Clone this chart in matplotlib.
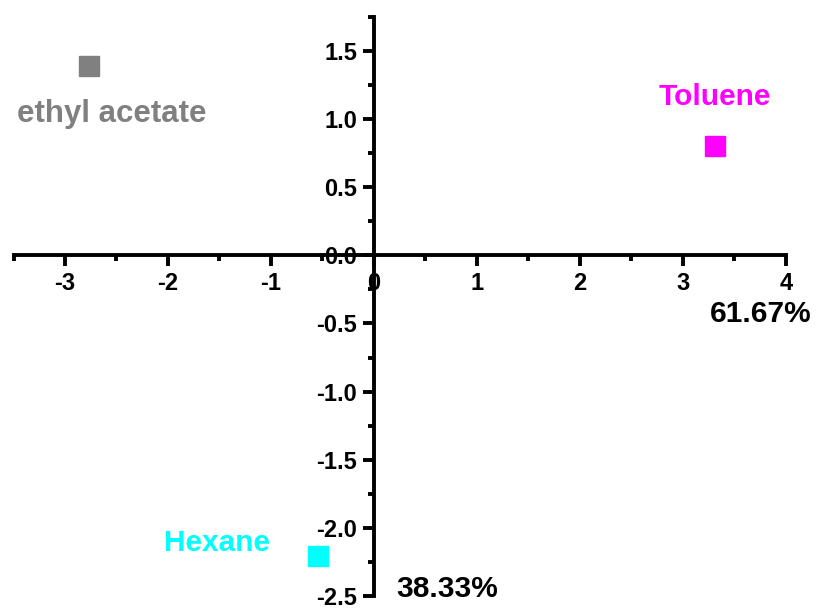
import matplotlib
matplotlib.use("Agg")
import matplotlib.pyplot as plt
from matplotlib.ticker import MultipleLocator, FormatStrFormatter

plt.rcParams['font.family'] = ['Liberation Sans', 'DejaVu Sans']
plt.rcParams['font.weight'] = 'bold'

solvents = ["ethyl acetate", "Toluene", "Hexane"]
pc1 = [-2.77, 3.31, -0.54]
pc2 = [1.39, 0.80, -2.21]
colors = ["#808080", "#FF00FF", "#00FFFF"]
label_offsets = [(0.0, -0.35), (0.0, 0.36), (-0.98, 0.10)]
pc1_pct = "61.67%"
pc2_pct = "38.33%"

fig = plt.figure(figsize=(8.19, 6.08), dpi=100)
ax = fig.add_axes([0.0165, 0.02, 0.943, 0.952])
ax.set_xlim(-3.5, 4.0)
ax.set_ylim(-2.5, 1.75)

for s in ["right", "top"]:
    ax.spines[s].set_visible(False)
for s in ["left", "bottom"]:
    ax.spines[s].set_position(("data", 0))
    ax.spines[s].set_linewidth(2.8)

ax.xaxis.set_major_locator(MultipleLocator(1))
ax.xaxis.set_minor_locator(MultipleLocator(0.5))
ax.yaxis.set_major_locator(MultipleLocator(0.5))
ax.yaxis.set_minor_locator(MultipleLocator(0.25))
ax.xaxis.set_major_formatter(FormatStrFormatter('%g'))
ax.yaxis.set_major_formatter(FormatStrFormatter('%.1f'))
ax.tick_params(which='major', direction='out', length=8, width=2.8, labelsize=17, pad=4)
ax.tick_params(which='minor', direction='out', length=4, width=2.8)
for lbl in ax.get_xticklabels() + ax.get_yticklabels():
    lbl.set_fontweight('bold')

for name, x, y, c, (dx, dy) in zip(solvents, pc1, pc2, colors, label_offsets):
    ax.plot([x], [y], marker='s', markersize=15, color=c, linestyle='none', clip_on=False)
    if name == "ethyl acetate":
        ax.text(-3.47, y + dy, name, color=c, fontsize=22.5, fontweight='bold',
                ha='left', va='center')
    else:
        ax.text(x + dx, y + dy, name, color=c, fontsize=21.5, fontweight='bold',
                ha='center', va='center')

ax.text(3.76, -0.43, pc1_pct, fontsize=21.5, fontweight='bold', ha='center', va='center')
ax.text(0.71, -2.45, pc2_pct, fontsize=21.5, fontweight='bold', ha='center', va='center',
        clip_on=False)

fig.savefig("out.png", dpi=100)
